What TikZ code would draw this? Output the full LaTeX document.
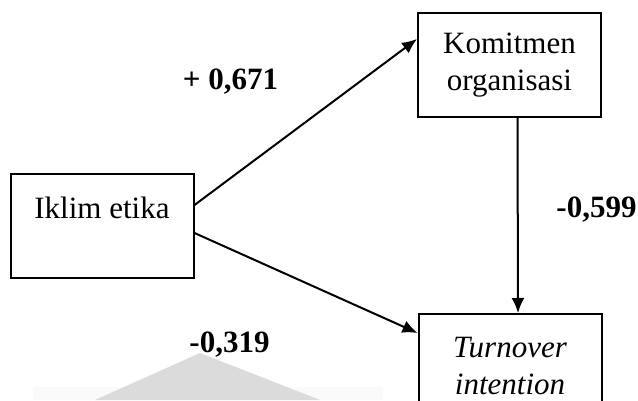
\documentclass[tikz,border=0pt]{standalone}
\usepackage{fontspec}
\setmainfont{Liberation Serif}
\usetikzlibrary{arrows.meta,calc}
\begin{document}
\begin{tikzpicture}[x=1pt,y=1pt,
  box/.style={draw=black,line width=2pt,minimum width=183pt,minimum height=104pt,
    inner sep=0pt,align=center,font=\fontsize{31}{37}\selectfont},
  conn/.style={line width=2pt,-{Latex[length=15pt,width=13pt]}},
  coef/.style={font=\fontsize{31}{37}\selectfont\bfseries,inner sep=0pt}]
\useasboundingbox (0,0) rectangle (638,400);
\clip (0,0) rectangle (638,400);
% faint watermark
\fill[black!2] (33,0) rectangle (383,13);
\fill[black!14] (95,0) -- (200,47) -- (320,0) -- cycle;
% boxes
\node[box] (iklim) at (102,174) {Iklim etika\\\mbox{}};
\node[box] (kom) at (509.5,335) {Komitmen\\organisasi};
\node[box] (turn) at (510,34) {\itshape Turnover\\\itshape intention};
% connectors
\draw[conn] ($(iklim.east)+(0,21)$) -- ($(kom.west)+(0,26)$);
\draw[conn] ($(iklim.east)+(0,-7)$) -- ($(turn.west)+(0,33)$);
\draw[conn] ($(kom.south)+(8,0)$) -- ($(turn.north)+(8,0)$);
% labels
\node[coef] (l1) at (230.5,318) {+ 0,671};
\node[coef] (l2) at (596.5,190) {-0,599};
\node[coef] (l3) at (229.5,55) {-0,319};
\end{tikzpicture}
\end{document}
